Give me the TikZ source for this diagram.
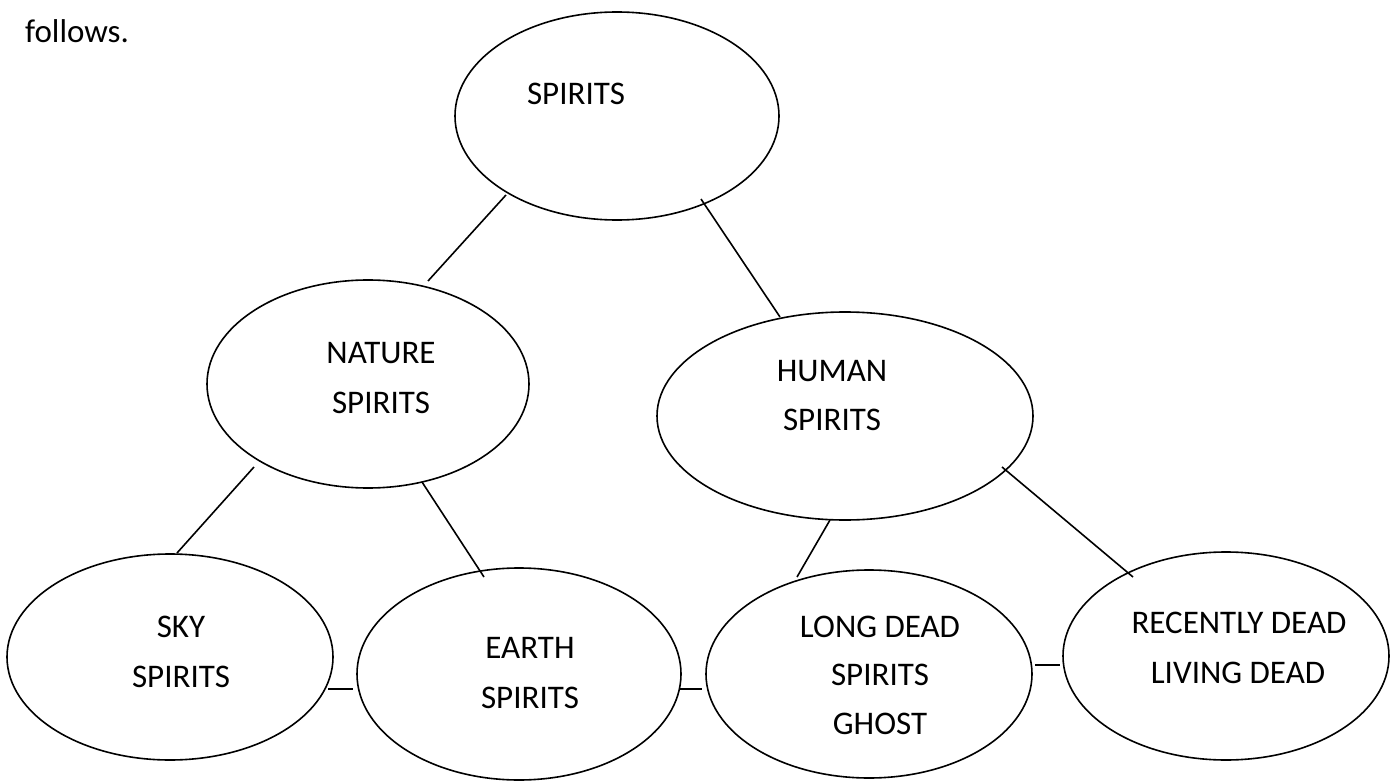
\documentclass[tikz,border=0pt]{standalone}
\usepackage{fontspec}
\setmainfont{Carlito}
\usetikzlibrary{shapes.geometric}
\begin{document}
\begin{tikzpicture}[x=1pt,y=-1pt,
  bubble/.style={draw=black,line width=1.6pt,ellipse,inner sep=0pt,outer sep=0pt},
  lbl/.style={anchor=base,inner sep=0pt,font=\fontsize{33}{40}\selectfont},
  conn/.style={draw=black,line width=1.6pt}]
\useasboundingbox (0,0) rectangle (1395,781);
\fill[white] (0,0) rectangle (1395,781);
\node[anchor=base west,inner sep=0pt,font=\fontsize{33}{40}\selectfont] (follows) at (25,43) {follows.};
% ellipses
\node[bubble,minimum width=324pt,minimum height=208pt] (spirits) at (617,116) {};
\node[bubble,minimum width=322pt,minimum height=208pt] (nature) at (368,384) {};
\node[bubble,minimum width=376pt,minimum height=208pt] (human) at (845,416) {};
\node[bubble,minimum width=326pt,minimum height=206pt] (sky) at (170,657) {};
\node[bubble,minimum width=324pt,minimum height=212pt] (earth) at (519,674) {};
\node[bubble,minimum width=326pt,minimum height=208pt] (long) at (869,674) {};
\node[bubble,minimum width=326pt,minimum height=208pt] (recent) at (1226,656) {};
% texts
\node[lbl] (t-spirits) at (576,105) {SPIRITS};
\node[lbl] (t-nature1) at (381,363) {NATURE};
\node[lbl] (t-nature2) at (381,413) {SPIRITS};
\node[lbl] (t-human1) at (832,381) {HUMAN};
\node[lbl] (t-human2) at (832,430) {SPIRITS};
\node[lbl] (t-sky1) at (181,637) {SKY};
\node[lbl] (t-sky2) at (181,687) {SPIRITS};
\node[lbl] (t-earth1) at (530,658) {EARTH};
\node[lbl] (t-earth2) at (530,708) {SPIRITS};
\node[lbl] (t-long1) at (880,637) {LONG DEAD};
\node[lbl] (t-long2) at (880,685) {SPIRITS};
\node[lbl] (t-long3) at (880,734) {GHOST};
\node[lbl] (t-recent1) at (1239,633) {RECENTLY DEAD};
\node[lbl] (t-recent2) at (1238,683) {LIVING DEAD};
% connector ends
\coordinate (a1) at (506,195); \coordinate (a2) at (428,281);
\coordinate (b1) at (701,199); \coordinate (b2) at (780,317);
\coordinate (c1) at (254,467); \coordinate (c2) at (177,553);
\coordinate (d1) at (422,482); \coordinate (d2) at (484,577);
\coordinate (e1) at (830,520); \coordinate (e2) at (797,577);
\coordinate (f1) at (1002,467); \coordinate (f2) at (1133,577);
\coordinate (g1) at (328,689); \coordinate (g2) at (353,689);
\coordinate (h1) at (680,689); \coordinate (h2) at (702,689);
\coordinate (i1) at (1035,665); \coordinate (i2) at (1060,665);
\draw[conn] (a1) -- (a2);
\draw[conn] (b1) -- (b2);
\draw[conn] (c1) -- (c2);
\draw[conn] (d1) -- (d2);
\draw[conn] (e1) -- (e2);
\draw[conn] (f1) -- (f2);
\draw[conn] (g1) -- (g2);
\draw[conn] (h1) -- (h2);
\draw[conn] (i1) -- (i2);
\end{tikzpicture}
\end{document}
